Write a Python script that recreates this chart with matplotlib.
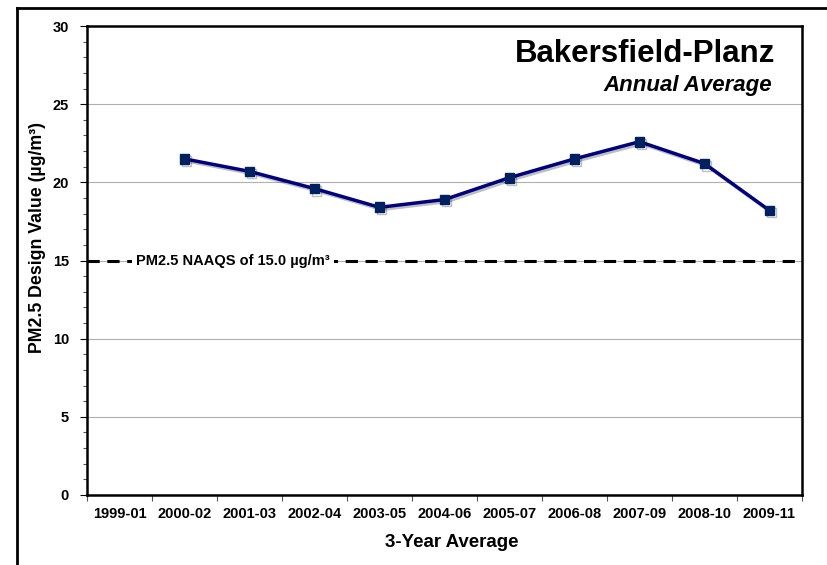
import matplotlib
matplotlib.use("Agg")
import matplotlib.pyplot as plt
import matplotlib.patheffects as pe
from matplotlib.lines import Line2D
import numpy as np

plt.rcParams['font.family'] = ['Liberation Sans', 'DejaVu Sans']

categories = ["1999-01", "2000-02", "2001-03", "2002-04", "2003-05", "2004-06",
              "2005-07", "2006-08", "2007-09", "2008-10", "2009-11"]
values = [np.nan, 21.5, 20.7, 19.6, 18.4, 18.9, 20.3, 21.5, 22.6, 21.2, 18.2]
naaqs = 15.0
title = "Bakersfield-Planz"
subtitle = "Annual Average"

fig = plt.figure(figsize=(8.28, 5.65), dpi=100)
W, H = 828, 565
ax = fig.add_axes([87 / W, 1 - 495 / H, (802 - 87) / W, (495 - 26) / H])

x = np.arange(len(categories))
ax.plot(x, values, color='#000080', lw=2.5, marker='s', ms=7,
        mfc='#002060', mec='#002060', zorder=5,
        path_effects=[pe.SimpleLineShadow(offset=(1.5, -1.5), alpha=0.25, shadow_color='black'),
                      pe.Normal()])

ax.axhline(naaqs, color='black', lw=2.2, ls=(0, (4, 2.5)), zorder=3)
ax.text(0.25, naaqs, "PM2.5 NAAQS of 15.0 µg/m³", fontsize=10.5, fontweight='bold',
        va='center', ha='left', zorder=4,
        bbox=dict(facecolor='white', edgecolor='none', pad=3))

ax.set_xlim(-0.5, len(categories) - 0.5)
ax.set_ylim(0, 30)
ax.set_yticks(np.arange(0, 31, 5))
ax.set_yticks(np.arange(0, 31, 1), minor=True)
ax.set_xticks(x)
ax.set_xticklabels(categories, fontsize=10.5, fontweight='bold')
ax.set_xticks(np.arange(-0.5, len(categories), 1), minor=True)
ax.tick_params(axis='x', which='major', length=0, pad=9)
ax.tick_params(axis='x', which='minor', length=4, width=0.8, color='#555555')
ax.tick_params(axis='y', which='major', length=5, labelsize=10.5, pad=8)
ax.tick_params(axis='y', which='minor', length=3, width=0.8, color='#555555')
for lab in ax.get_yticklabels():
    lab.set_fontweight('bold')
ax.grid(axis='y', which='major', color='#b0b0b0', lw=0.8)
ax.set_axisbelow(True)
for s in ax.spines.values():
    s.set_linewidth(1.8)

ax.set_xlabel("3-Year Average", fontsize=13.5, fontweight='bold')
ax.xaxis.set_label_coords(0.51, -0.083)
ax.set_ylabel("PM2.5 Design Value (µg/m³)", fontsize=12.8, fontweight='bold')
ax.yaxis.set_label_coords(-0.058, 0.548)

ax.text(0.962, 0.94, title, transform=ax.transAxes, ha='right', va='center',
        fontsize=22.5, fontweight='bold')
ax.text(0.958, 0.873, subtitle, transform=ax.transAxes, ha='right', va='center',
        fontsize=16, fontweight='bold', fontstyle='italic')

# outer frame
fig.add_artist(Line2D([17 / W, 1.0], [1 - 8 / H, 1 - 8 / H], transform=fig.transFigure,
                      color='black', lw=2))
fig.add_artist(Line2D([17 / W, 17 / W], [0, 1 - 8 / H], transform=fig.transFigure,
                      color='black', lw=2))

fig.savefig("out.png", dpi=100)
